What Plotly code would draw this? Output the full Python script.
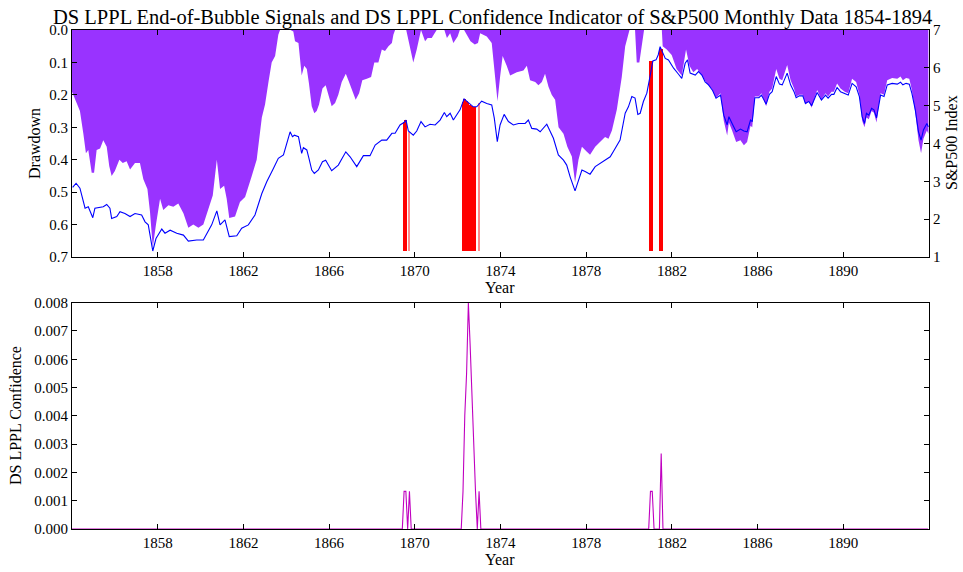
import plotly.graph_objects as go

# ---------------- data ----------------
price_years = [1854.03, 1854.19, 1854.37, 1854.61, 1854.76, 1854.97, 1855.07, 1855.46, 1855.62, 1855.77,
               1855.85, 1856.09, 1856.24, 1856.47, 1856.71, 1856.94, 1857.25, 1857.41, 1857.56, 1857.77,
               1857.92, 1858.19, 1858.34, 1858.58, 1858.89, 1859.20, 1859.43, 1859.82, 1860.13, 1860.29,
               1860.52, 1860.76, 1860.91, 1861.14, 1861.34, 1861.69, 1861.92, 1862.23, 1862.54, 1862.86,
               1863.09, 1863.40, 1863.63, 1863.87, 1864.18, 1864.29, 1864.38, 1864.57, 1864.72, 1864.80,
               1864.96, 1865.06, 1865.19, 1865.31, 1865.50, 1865.69, 1865.84, 1866.12, 1866.43, 1866.78,
               1866.98, 1867.29, 1867.60, 1867.91, 1868.15, 1868.46, 1868.69, 1868.93, 1869.08, 1869.31,
               1869.51, 1869.59, 1869.70, 1869.93, 1870.09, 1870.29, 1870.48, 1870.71, 1870.95, 1871.18,
               1871.38, 1871.49, 1871.65, 1871.80, 1872.11, 1872.30, 1872.42, 1872.58, 1872.73, 1872.89,
               1873.12, 1873.36, 1873.59, 1873.71, 1873.85, 1873.98, 1874.17, 1874.37, 1874.60, 1874.84,
               1875.15, 1875.30, 1875.46, 1875.69, 1875.85, 1876.16, 1876.32, 1876.47, 1876.70, 1876.94,
               1877.09, 1877.25, 1877.48, 1877.64, 1877.80, 1877.95, 1878.18, 1878.42, 1878.65, 1878.88,
               1879.12, 1879.35, 1879.58, 1879.82, 1879.97, 1880.13, 1880.28, 1880.41, 1880.52, 1880.67,
               1880.83, 1880.99, 1881.11, 1881.26, 1881.36, 1881.45, 1881.56, 1881.69, 1881.84, 1882.08,
               1882.31, 1882.46, 1882.62, 1882.73, 1882.85, 1883.09, 1883.24, 1883.40, 1883.55, 1883.71,
               1883.90, 1884.06, 1884.27, 1884.42, 1884.58, 1884.66, 1884.81, 1885.00, 1885.20, 1885.36,
               1885.51, 1885.67, 1885.75, 1885.87, 1886.06, 1886.18, 1886.40, 1886.55, 1886.68, 1886.87,
               1887.02, 1887.15, 1887.38, 1887.54, 1887.70, 1887.80, 1887.95, 1888.11, 1888.23, 1888.39,
               1888.52, 1888.63, 1888.78, 1888.98, 1889.17, 1889.29, 1889.45, 1889.56, 1889.71, 1889.87,
               1890.07, 1890.23, 1890.41, 1890.60, 1890.75, 1890.88, 1890.99, 1891.08, 1891.19, 1891.32,
               1891.43, 1891.55, 1891.66, 1891.74, 1891.90, 1892.05, 1892.28, 1892.52, 1892.67, 1892.78,
               1892.93, 1893.08, 1893.20, 1893.36, 1893.51, 1893.63, 1893.74, 1893.90, 1893.97]
price_values = [2.84, 2.95, 2.82, 2.29, 2.33, 2.04, 2.29, 2.33, 2.39, 2.29,
                2.02, 2.07, 2.20, 2.15, 2.07, 2.15, 2.11, 1.93, 1.85, 1.16,
                1.49, 1.74, 1.63, 1.71, 1.63, 1.58, 1.42, 1.45, 1.45, 1.63,
                1.85, 2.22, 1.85, 1.98, 1.54, 1.56, 1.76, 1.85, 2.11, 2.68,
                2.99, 3.34, 3.61, 3.70, 4.31, 4.18, 4.22, 4.18, 3.74, 3.89,
                3.83, 3.61, 3.30, 3.21, 3.30, 3.52, 3.56, 3.28, 3.43, 3.78,
                3.65, 3.39, 3.68, 3.68, 3.96, 4.09, 4.09, 4.27, 4.27, 4.49,
                4.56, 4.62, 4.33, 4.22, 4.33, 4.58, 4.44, 4.51, 4.49, 4.62,
                4.82, 4.71, 4.80, 4.62, 4.89, 5.18, 5.12, 5.04, 4.97, 4.97,
                5.12, 5.06, 5.02, 4.67, 4.05, 4.49, 4.77, 4.58, 4.49, 4.53,
                4.53, 4.62, 4.40, 4.38, 4.31, 4.51, 4.31, 4.14, 3.70, 3.56,
                3.43, 3.12, 2.75, 3.04, 3.30, 3.26, 3.19, 3.39, 3.48, 3.56,
                3.65, 3.87, 4.09, 4.80, 4.97, 5.24, 5.20, 4.77, 4.80, 5.11,
                5.33, 5.81, 6.18, 6.21, 6.34, 6.56, 6.43, 6.25, 6.21, 5.99,
                5.83, 5.72, 6.12, 6.21, 5.86, 5.81, 5.90, 5.81, 5.63, 5.55,
                5.40, 5.20, 5.28, 4.75, 4.49, 4.71, 4.53, 4.31, 4.38, 4.33,
                4.31, 4.62, 4.58, 5.21, 5.21, 5.28, 5.04, 5.30, 5.37, 5.77,
                5.57, 5.55, 5.86, 5.55, 5.37, 5.21, 5.26, 5.26, 5.06, 5.11,
                5.00, 5.15, 5.35, 5.15, 5.28, 5.20, 5.30, 5.30, 5.48, 5.37,
                5.33, 5.28, 5.59, 5.50, 5.24, 4.71, 4.53, 4.80, 4.75, 4.93,
                4.89, 4.68, 5.02, 5.28, 5.24, 5.55, 5.59, 5.57, 5.62, 5.55,
                5.59, 5.57, 5.33, 4.89, 4.31, 4.09, 4.36, 4.53, 4.44]

drawdown_years = [1854.00, 1854.19, 1854.37, 1854.53, 1854.65, 1854.76, 1854.92, 1855.03, 1855.15, 1855.31,
                  1855.46, 1855.62, 1855.74, 1855.85, 1856.00, 1856.21, 1856.37, 1856.55, 1856.71, 1856.94,
                  1857.17, 1857.33, 1857.52, 1857.64, 1857.77, 1857.92, 1858.11, 1858.26, 1858.50, 1858.73,
                  1858.96, 1859.20, 1859.43, 1859.66, 1859.90, 1860.13, 1860.36, 1860.57, 1860.76, 1860.91,
                  1861.10, 1861.22, 1861.34, 1861.61, 1861.84, 1862.08, 1862.39, 1862.62, 1862.86, 1863.01,
                  1863.17, 1863.32, 1863.48, 1863.63, 1863.71, 1864.20, 1864.33, 1864.41, 1864.57, 1864.72,
                  1864.84, 1864.96, 1865.06, 1865.19, 1865.31, 1865.42, 1865.53, 1865.69, 1865.84, 1866.00,
                  1866.12, 1866.28, 1866.43, 1866.59, 1866.78, 1866.93, 1867.06, 1867.24, 1867.40, 1867.55,
                  1867.76, 1867.96, 1868.11, 1868.30, 1868.46, 1868.61, 1868.77, 1868.93, 1869.00, 1869.08,
                  1869.60, 1869.73, 1869.86, 1869.93, 1870.09, 1870.29, 1870.48, 1870.60, 1870.79, 1871.02,
                  1871.38, 1871.50, 1871.65, 1871.80, 1872.00, 1872.10, 1872.30, 1872.45, 1872.60, 1872.80,
                  1872.95, 1873.05, 1873.36, 1873.59, 1873.75, 1873.86, 1873.98, 1874.10, 1874.29, 1874.45,
                  1874.76, 1875.07, 1875.23, 1875.38, 1875.62, 1875.77, 1875.93, 1876.08, 1876.24, 1876.39,
                  1876.55, 1876.71, 1876.94, 1877.12, 1877.33, 1877.48, 1877.64, 1877.80, 1878.03, 1878.18,
                  1878.42, 1878.65, 1878.88, 1879.04, 1879.20, 1879.43, 1879.66, 1879.82, 1880.02, 1880.28,
                  1880.36, 1880.48, 1880.64, 1880.70, 1881.53, 1881.57, 1881.76, 1881.99, 1882.22, 1882.46,
                  1882.66, 1882.82, 1883.00, 1883.18, 1883.40, 1883.63, 1883.86, 1884.06, 1884.27, 1884.42,
                  1884.58, 1884.66, 1884.81, 1885.00, 1885.20, 1885.36, 1885.51, 1885.67, 1885.75, 1885.87,
                  1886.06, 1886.18, 1886.40, 1886.55, 1886.68, 1886.87, 1887.02, 1887.15, 1887.38, 1887.54,
                  1887.70, 1887.80, 1887.95, 1888.11, 1888.23, 1888.39, 1888.52, 1888.63, 1888.78, 1888.98,
                  1889.17, 1889.29, 1889.45, 1889.56, 1889.71, 1889.87, 1890.07, 1890.23, 1890.41, 1890.60,
                  1890.75, 1890.88, 1890.99, 1891.08, 1891.19, 1891.32, 1891.43, 1891.55, 1891.66, 1891.74,
                  1891.90, 1892.05, 1892.28, 1892.52, 1892.67, 1892.78, 1892.93, 1893.08, 1893.20, 1893.36,
                  1893.51, 1893.63, 1893.74, 1893.90, 1893.97]
drawdown_values = [0.19, 0.22, 0.25, 0.32, 0.38, 0.37, 0.44, 0.44, 0.37, 0.365,
                   0.34, 0.36, 0.42, 0.45, 0.435, 0.40, 0.41, 0.405, 0.43, 0.41,
                   0.41, 0.46, 0.49, 0.56, 0.67, 0.60, 0.52, 0.555, 0.54, 0.545,
                   0.535, 0.565, 0.61, 0.60, 0.61, 0.60, 0.555, 0.51, 0.40, 0.49,
                   0.48, 0.52, 0.58, 0.575, 0.53, 0.515, 0.45, 0.40, 0.27, 0.23,
                   0.16, 0.10, 0.08, 0.015, 0.0, 0.0, 0.005, 0.035, 0.04, 0.14,
                   0.11, 0.12, 0.165, 0.235, 0.257, 0.25, 0.23, 0.18, 0.17, 0.21,
                   0.235, 0.225, 0.20, 0.16, 0.135, 0.16, 0.185, 0.215, 0.195, 0.155,
                   0.15, 0.145, 0.10, 0.10, 0.06, 0.065, 0.05, 0.04, 0.015, 0.0,
                   0.0, 0.04, 0.08, 0.10, 0.06, 0.0, 0.035, 0.025, 0.025, 0.0,
                   0.0, 0.025, 0.01, 0.04, 0.02, 0.0, 0.0, 0.02, 0.035, 0.045,
                   0.04, 0.01, 0.02, 0.04, 0.135, 0.22, 0.145, 0.08, 0.11, 0.14,
                   0.13, 0.125, 0.11, 0.155, 0.16, 0.17, 0.16, 0.135, 0.175, 0.20,
                   0.215, 0.30, 0.32, 0.36, 0.39, 0.47, 0.40, 0.36, 0.375, 0.385,
                   0.36, 0.345, 0.33, 0.335, 0.31, 0.245, 0.145, 0.05, 0.0, 0.0,
                   0.10, 0.10, 0.03, 0.0, 0.0, 0.05, 0.06, 0.077, 0.12, 0.14,
                   0.06, 0.11, 0.13, 0.12, 0.14, 0.165, 0.18, 0.21, 0.195, 0.28,
                   0.325, 0.285, 0.31, 0.345, 0.34, 0.355, 0.345, 0.295, 0.30, 0.205,
                   0.205, 0.195, 0.235, 0.19, 0.18, 0.12, 0.15, 0.155, 0.108, 0.155,
                   0.18, 0.205, 0.20, 0.20, 0.23, 0.22, 0.24, 0.215, 0.185, 0.215,
                   0.195, 0.205, 0.19, 0.19, 0.165, 0.18, 0.19, 0.195, 0.15, 0.16,
                   0.20, 0.28, 0.30, 0.27, 0.275, 0.25, 0.255, 0.285, 0.235, 0.195,
                   0.20, 0.155, 0.148, 0.15, 0.143, 0.155, 0.148, 0.15, 0.185, 0.255,
                   0.34, 0.38, 0.335, 0.31, 0.32]

# end-of-bubble signal months, the price the red bar reaches, and whether it is a faint one
signal_years = [1869.50, 1869.583, 1869.75, 1872.25, 1872.333, 1872.417, 1872.50, 1872.583,
                1872.667, 1872.75, 1872.833, 1873.00, 1881.00, 1881.083, 1881.50]
signal_price = [4.56, 4.62, 4.31, 5.10, 5.18, 5.12, 5.06, 5.03,
                4.98, 4.96, 4.97, 5.06, 6.18, 6.18, 6.50]
signal_faint = [False, False, True, False, False, False, False, False,
                False, False, False, True, False, False, False]

conf_years = [1854.00, 1869.417, 1869.50, 1869.583, 1869.667, 1869.75, 1869.833,
              1872.167, 1872.25, 1872.333, 1872.417, 1872.50, 1872.583, 1872.667, 1872.75,
              1872.833, 1872.917, 1873.00, 1873.083,
              1880.917, 1881.00, 1881.083, 1881.167, 1881.417, 1881.50, 1881.583, 1893.95]
conf_values = [0.0, 0.0, 0.00133, 0.00133, 0.0, 0.00133, 0.0,
               0.0, 0.00133, 0.0040, 0.0055, 0.0080, 0.0065, 0.0045, 0.0027,
               0.00133, 0.0, 0.00133, 0.0,
               0.0, 0.00133, 0.00133, 0.0, 0.0, 0.00267, 0.0, 0.0]

year_ticks = [1858, 1862, 1866, 1870, 1874, 1878, 1882, 1886, 1890]

TITLE = "DS LPPL End-of-Bubble Signals and DS LPPL Confidence Indicator of S&P500 Monthly Data 1854-1894"

# ---------------- figure ----------------
FONT = "Liberation Serif, Times New Roman, serif"
BAR_BASE = 1.17
W, H = 963, 572
ML, MR, MT, MB = 72, 34, 30, 43
PW, PH = W - ML - MR, H - MT - MB


def px_x(p):
    return (p - ML) / PW


def px_y(p):
    return (H - MB - p) / PH


fig = go.Figure()

fig.add_trace(go.Scatter(
    x=drawdown_years, y=drawdown_values, xaxis="x", yaxis="y",
    mode="lines", line=dict(width=0, color="#9933ff"),
    fill="tozeroy", fillcolor="#9933ff", hoverinfo="skip", showlegend=False))

solid_x, solid_y, solid_w = [], [], []
faint_x, faint_y = [], []
for yr, p, faint in zip(signal_years, signal_price, signal_faint):
    if faint:
        faint_x.append(yr)
        faint_y.append(p - BAR_BASE)
    else:
        solid_x.append(yr)
        solid_y.append(p - BAR_BASE)
        solid_w.append(0.2 if p > 6.3 else 0.086)

fig.add_trace(go.Bar(
    x=solid_x, y=solid_y, base=BAR_BASE, width=solid_w, xaxis="x", yaxis="y2",
    marker=dict(color="#ff0000", line=dict(width=0)), showlegend=False))
fig.add_trace(go.Bar(
    x=faint_x, y=faint_y, base=BAR_BASE, width=0.065, xaxis="x", yaxis="y2",
    marker=dict(color="#ff8c8c", line=dict(width=0)), showlegend=False))

fig.add_trace(go.Scatter(
    x=price_years, y=price_values, xaxis="x", yaxis="y2",
    mode="lines", line=dict(color="#0000ff", width=1.1), showlegend=False))

fig.add_trace(go.Scatter(
    x=conf_years, y=conf_values, xaxis="x2", yaxis="y3",
    mode="lines", line=dict(color="#c000c0", width=1.1), showlegend=False))

axis_common = dict(showline=True, linecolor="black", linewidth=1, ticks="inside",
                   ticklen=5, tickcolor="black", showgrid=False, zeroline=False,
                   automargin=False,
                   tickfont=dict(size=15, color="black", family=FONT))

fig.update_layout(
    width=W, height=H,
    margin=dict(l=ML, r=MR, t=MT, b=MB, autoexpand=False),
    paper_bgcolor="white", plot_bgcolor="white",
    font=dict(family=FONT, color="black", size=15),
    bargap=0, barmode="overlay",
    xaxis=dict(domain=[0, 1], anchor="y", range=[1854, 1894], tickvals=year_ticks,
               mirror="ticks", **axis_common),
    yaxis=dict(domain=[0.545, 1], anchor="x", range=[0.7, 0],
               tickvals=[0, 0.1, 0.2, 0.3, 0.4, 0.5, 0.6, 0.7], tickformat=".1f",
               **axis_common),
    yaxis2=dict(overlaying="y", side="right", anchor="x", range=[1, 7],
                tickvals=[1, 2, 3, 4, 5, 6, 7], **axis_common),
    xaxis2=dict(domain=[0, 1], anchor="y3", range=[1854, 1894], tickvals=year_ticks,
                mirror="ticks", **axis_common),
    yaxis3=dict(domain=[0, 0.4535], anchor="x2", range=[0, 0.008],
                tickvals=[0, 0.001, 0.002, 0.003, 0.004, 0.005, 0.006, 0.007, 0.008],
                tickformat=".3f", mirror="ticks", **axis_common),
)

labels = [
    (TITLE, 492, 18, 0, 20.5),
    ("Drawdown", 34, 144, -90, 16),
    ("S&P500 Index", 951, 143, -90, 16),
    ("Year", 500, 287, 0, 16),
    ("DS LPPL Confidence", 15, 416, -90, 16),
    ("Year", 500, 559, 0, 16),
]
for text, x, y, ang, size in labels:
    fig.add_annotation(text=text, xref="paper", yref="paper", x=px_x(x), y=px_y(y),
                       xanchor="center", yanchor="middle", textangle=ang, showarrow=False,
                       font=dict(size=size, family=FONT, color="black"))

fig.write_html("out.html", config={"displayModeBar": False},
               post_script="document.body.style.margin='0px';document.body.style.padding='0px';"
                           "document.body.style.overflow='hidden';")
